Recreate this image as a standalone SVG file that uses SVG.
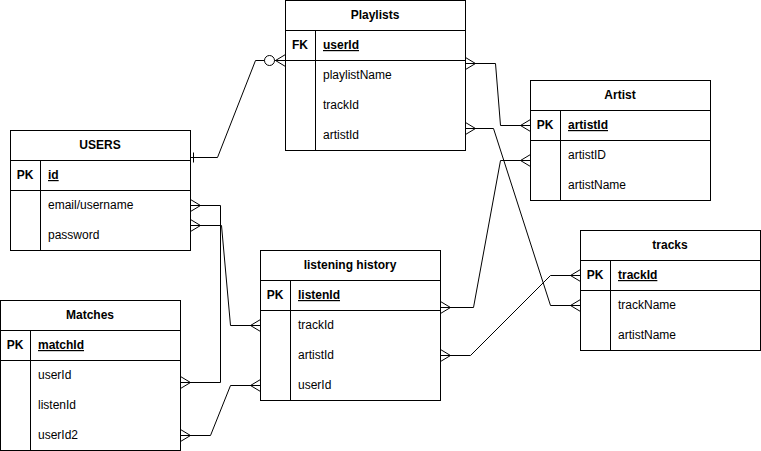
<svg xmlns="http://www.w3.org/2000/svg" width="761" height="451" viewBox="0 0 761 451">
<style>
.box{fill:#fff;stroke:#000;stroke-width:1}
.ln{stroke:#000;stroke-width:1;fill:none}
text{font-family:"Liberation Sans",Arial,Helvetica,sans-serif;font-size:12px;fill:#000}
.t{font-weight:bold;text-anchor:middle}
.k{font-weight:bold;text-anchor:middle}
.pk{font-weight:bold;text-decoration:underline}
.e{stroke:#000;stroke-width:1;fill:none;marker-start:url(#many);marker-end:url(#many)}
</style>
<defs>
<marker id="many" markerUnits="userSpaceOnUse" orient="auto-start-reverse" refX="0" refY="0" markerWidth="20" markerHeight="20" viewBox="-15 -10 20 20" overflow="visible">
<path d="M0,-6 L-10,0 L0,6" fill="none" stroke="#000" stroke-width="1"/>
</marker>
<marker id="zeromany" markerUnits="userSpaceOnUse" orient="auto" refX="0" refY="0" markerWidth="30" markerHeight="20" viewBox="-25 -10 30 20" overflow="visible">
<path d="M0,-6 L-10,0 L0,6" fill="none" stroke="#000" stroke-width="1"/>
<circle cx="-16" cy="0" r="5" fill="#fff" stroke="#000" stroke-width="1"/>
</marker>
<marker id="one" markerUnits="userSpaceOnUse" orient="auto-start-reverse" refX="0" refY="0" markerWidth="20" markerHeight="20" viewBox="-10 -10 20 20" overflow="visible">
<path d="M-3,-5 V5" fill="none" stroke="#000" stroke-width="1"/>
</marker>
</defs>

<g id="connectors">
<path class="ln" d="M190.5 157.5 H217.5 L255.5 60.5 H285.5" marker-start="url(#one)" marker-end="url(#zeromany)"/>
<path class="e" d="M190.5 205.5 H220.5 V382.5 H180.5"/>
<path class="e" d="M190.5 225.5 H221.5 L230.5 325.5 H260.5"/>
<path class="e" d="M180.5 435.5 H210.5 L230.5 385.5 H260.5"/>
<path class="e" d="M465.5 63.5 H495.5 L500.5 125.5 H530.5"/>
<path class="e" d="M465.5 128.5 H493.5 L550.5 305.5 H580.5"/>
<path class="e" d="M530.5 160.5 H500.5 L473.5 307.5 H440.5"/>
<path class="e" d="M440.5 355.5 H470.5 L550.5 275.5 H580.5"/>
</g>

<g id="playlists">
<rect class="box" x="285.5" y="0.5" width="180" height="150"/>
<path class="ln" d="M285.5 30.5 H465.5 M285.5 60.5 H465.5 M315.5 30.5 V150.5"/>
<text class="t" x="375" y="19">Playlists</text>
<text class="k" x="300" y="49">FK</text>
<text class="pk" x="323" y="49">userId</text>
<text x="323" y="79">playlistName</text>
<text x="323" y="109">trackId</text>
<text x="323" y="139">artistId</text>
</g>

<g id="users">
<rect class="box" x="10.5" y="130.5" width="180" height="120"/>
<path class="ln" d="M10.5 160.5 H190.5 M10.5 190.5 H190.5 M40.5 160.5 V250.5"/>
<text class="t" x="100" y="149">USERS</text>
<text class="k" x="25" y="179">PK</text>
<text class="pk" x="48" y="179">id</text>
<text x="48" y="209">email/username</text>
<text x="48" y="239">password</text>
</g>

<g id="artist">
<rect class="box" x="530.5" y="80.5" width="180" height="120"/>
<path class="ln" d="M530.5 110.5 H710.5 M530.5 140.5 H710.5 M560.5 110.5 V200.5"/>
<text class="t" x="620" y="99">Artist</text>
<text class="k" x="545" y="129">PK</text>
<text class="pk" x="568" y="129">artistId</text>
<text x="568" y="159">artistID</text>
<text x="568" y="189">artistName</text>
</g>

<g id="tracks">
<rect class="box" x="580.5" y="230.5" width="180" height="120"/>
<path class="ln" d="M580.5 260.5 H760.5 M580.5 290.5 H760.5 M610.5 260.5 V350.5"/>
<text class="t" x="670" y="249">tracks</text>
<text class="k" x="595" y="279">PK</text>
<text class="pk" x="618" y="279">trackId</text>
<text x="618" y="309">trackName</text>
<text x="618" y="339">artistName</text>
</g>

<g id="listening-history">
<rect class="box" x="260.5" y="250.5" width="180" height="150"/>
<path class="ln" d="M260.5 280.5 H440.5 M260.5 310.5 H440.5 M290.5 280.5 V400.5"/>
<text class="t" x="350" y="269">listening history</text>
<text class="k" x="275" y="299">PK</text>
<text class="pk" x="298" y="299">listenId</text>
<text x="298" y="329">trackId</text>
<text x="298" y="359">artistId</text>
<text x="298" y="389">userId</text>
</g>

<g id="matches">
<rect class="box" x="0.5" y="300.5" width="180" height="150"/>
<path class="ln" d="M0.5 330.5 H180.5 M0.5 360.5 H180.5 M30.5 330.5 V450.5"/>
<text class="t" x="90" y="319">Matches</text>
<text class="k" x="15" y="349">PK</text>
<text class="pk" x="38" y="349">matchId</text>
<text x="38" y="379">userId</text>
<text x="38" y="409">listenId</text>
<text x="38" y="439">userId2</text>
</g>
</svg>
